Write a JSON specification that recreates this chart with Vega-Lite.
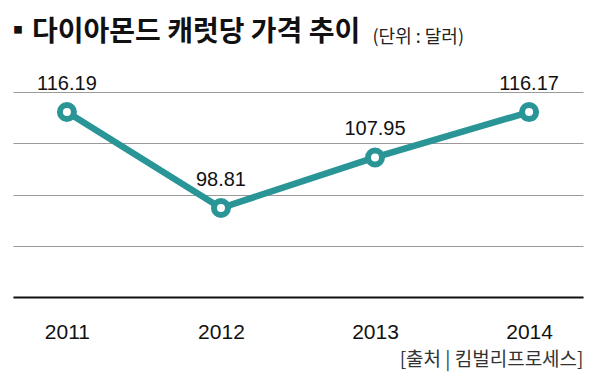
{
  "$schema": "https://vega.github.io/schema/vega-lite/v6.json",
  "width": 570,
  "height": 205,
  "autosize": {"type": "none"},
  "padding": {"left": 13, "top": 92, "right": 17, "bottom": 79},
  "background": "white",
  "title": {
    "text": "▪다이아몬드 캐럿당 가격 추이",
    "anchor": "start",
    "frame": "group",
    "font": "Noto Sans CJK KR",
    "fontSize": 28,
    "fontWeight": "bold",
    "color": "#111111",
    "offset": -41,
    "baseline": "alphabetic",
    "dx": -9
  },
  "data": {
    "values": [
      {"year": "2011", "price": 116.19},
      {"year": "2012", "price": 98.81},
      {"year": "2013", "price": 107.95},
      {"year": "2014", "price": 116.17}
    ]
  },
  "encoding": {
    "x": {
      "field": "year",
      "type": "ordinal",
      "scale": {"type": "point", "padding": 0.35},
      "axis": {
        "title": "[출처 | 킴벌리프로세스]",
        "titleX": 570,
        "titleY": 68,
        "titleAlign": "right",
        "titleBaseline": "alphabetic",
        "titleFont": "Noto Sans CJK KR",
        "titleFontSize": 19,
        "titleFontWeight": "normal",
        "titleColor": "#333333",
        "labelAngle": 0,
        "labelFont": "Liberation Sans",
        "labelFontSize": 21,
        "labelColor": "#111111",
        "labelBaseline": "alphabetic",
        "labelPadding": 41,
        "ticks": false,
        "tickSize": 0,
        "domainColor": "#111111",
        "domainWidth": 2,
        "grid": false
      }
    },
    "y": {
      "field": "price",
      "type": "quantitative",
      "scale": {"domain": [82.7, 119.8], "zero": false, "nice": false},
      "axis": {
        "title": "(단위 : 달러)",
        "titleAngle": 0,
        "titleX": 359,
        "titleY": -50,
        "titleAlign": "left",
        "titleBaseline": "alphabetic",
        "titleFont": "Noto Sans CJK KR",
        "titleFontSize": 18,
        "titleFontWeight": "normal",
        "titleColor": "#222222",
        "labels": false,
        "ticks": false,
        "domain": false,
        "grid": true,
        "gridColor": "#9a9a9a",
        "gridWidth": 1,
        "values": [82.7, 91.975, 101.25, 110.525, 119.8]
      }
    }
  },
  "layer": [
    {"mark": {"type": "line", "color": "#2a9597", "strokeWidth": 6.5}},
    {"mark": {"type": "point", "shape": "circle", "filled": true, "fill": "white", "stroke": "#2a9597", "strokeWidth": 6, "size": 196, "opacity": 1}},
    {
      "mark": {"type": "text", "font": "Liberation Sans", "fontSize": 20, "baseline": "alphabetic", "dy": -22, "color": "#111111"},
      "encoding": {"text": {"field": "price", "type": "quantitative", "format": ".2f"}}
    }
  ],
  "config": {"view": {"stroke": null}}
}
